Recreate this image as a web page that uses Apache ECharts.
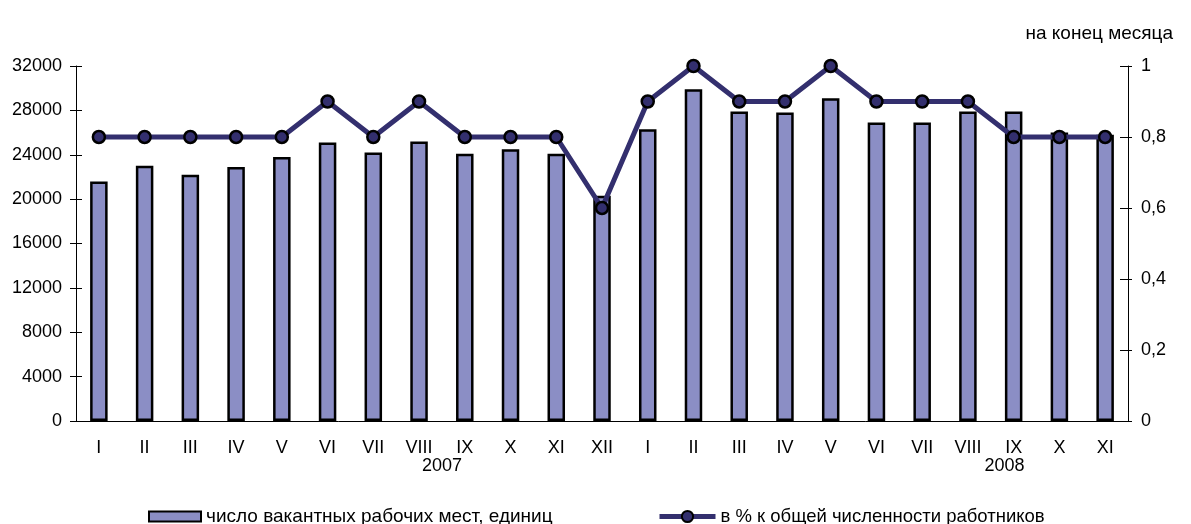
<!DOCTYPE html>
<html>
<head>
<meta charset="utf-8">
<script src="https://cdn.jsdelivr.net/npm/echarts@6/dist/echarts.min.js"></script>
<style>
  html, body { margin: 0; padding: 0; background: #fff; }
  #c1 { width: 1191px; height: 524px; }
</style>
</head>
<body>
<div id="c1"></div>
<script>
var months = ['I','II','III','IV','V','VI','VII','VIII','IX','X','XI','XII',
              'I','II','III','IV','V','VI','VII','VIII','IX','X','XI'];
// число вакантных рабочих мест, единиц
var vacancies = [21600, 23000, 22200, 22900, 23800, 25100, 24200, 25200, 24100, 24500, 24100, 20300,
                 26300, 29900, 27900, 27800, 29100, 26900, 26900, 27900, 27900, 26000, 25800];
// в % к общей численности работников
var share = [0.8, 0.8, 0.8, 0.8, 0.8, 0.9, 0.8, 0.9, 0.8, 0.8, 0.8, 0.6,
             0.9, 1.0, 0.9, 0.9, 1.0, 0.9, 0.9, 0.9, 0.8, 0.8, 0.8];
var leftAxis = {min: 0, max: 32000, interval: 4000};
var rightAxis = {min: 0, max: 1, interval: 0.2};
// year caption: placed between two month categories (weight w on the first)
var years = [{text: '2007', a: 7, b: 8, w: 0.5}, {text: '2008', a: 19, b: 20, w: 0.2}];
var seriesNames = ['число вакантных рабочих мест, единиц', 'в % к общей численности работников'];

var font = 'Liberation Sans, Arial, sans-serif';
var barColor = '#8b8ec5';
var lineColor = '#332f6e';

function yAx(pos, range, opts) {
  var a = {
    type: 'value', position: pos,
    min: range.min, max: range.max, interval: range.interval,
    splitLine: {show: false},
    axisLine: {show: true, lineStyle: {color: '#000', width: 1}},
    axisTick: {show: true, length: 6, lineStyle: {color: '#000'}},
    axisLabel: {show: true, color: '#000', fontSize: 18, fontFamily: font, margin: 14,
      formatter: function (v) { return String(v); }}
  };
  for (var k in opts) a[k] = opts[k];
  return a;
}

var option = {
  animation: false,
  title: {
    text: 'на конец месяца',
    right: 13, top: 19,
    textStyle: {fontSize: 19, fontWeight: 'normal', color: '#000', fontFamily: font}
  },
  legend: [
    {
      left: 148, top: 507, padding: 0,
      itemWidth: 52, itemHeight: 10,
      textStyle: {fontSize: 19, color: '#000', fontFamily: font},
      data: [{name: seriesNames[0], icon: 'rect'}]
    },
    {
      left: 657, top: 507, padding: 0,
      itemWidth: 56, itemHeight: 14,
      textStyle: {fontSize: 18.5, color: '#000', fontFamily: font},
      data: [{name: seriesNames[1], lineStyle: {width: 5, color: lineColor}}]
    }
  ],
  grid: {left: 76, right: 63, top: 66, bottom: 103, containLabel: false},
  xAxis: [
    {
      type: 'category', data: months, position: 'bottom',
      axisLine: {lineStyle: {color: '#000'}},
      axisTick: {length: 4, lineStyle: {color: '#000'}},
      axisLabel: {color: '#000', fontSize: 18, fontFamily: font, margin: 18, interval: 0}
    },
    {
      type: 'category', data: months, position: 'bottom',
      axisLine: {show: false},
      axisTick: {inside: true, length: 8, lineStyle: {color: '#000'}},
      axisLabel: {show: false}
    }
  ],
  yAxis: [
    yAx('left', leftAxis, {}),
    yAx('right', rightAxis, {
      axisTick: {show: true, length: 4, lineStyle: {color: '#000'}},
      axisLabel: {color: '#000', fontSize: 18, fontFamily: font, margin: 13,
        formatter: function (v) { return String(v).replace('.', ','); }}
    }),
    yAx('left', leftAxis, {
      axisLine: {show: false}, axisLabel: {show: false},
      axisTick: {show: true, inside: true, length: 6, lineStyle: {color: '#000'}}
    }),
    yAx('right', rightAxis, {
      axisLine: {show: false}, axisLabel: {show: false},
      axisTick: {show: true, inside: true, length: 8, lineStyle: {color: '#000'}}
    })
  ],
  series: [
    {
      name: seriesNames[0], type: 'bar', yAxisIndex: 0,
      barWidth: 17.5,
      itemStyle: {color: barColor, borderColor: '#000', borderWidth: 2.5},
      data: vacancies
    },
    {
      name: seriesNames[1], type: 'line', yAxisIndex: 1,
      symbol: 'circle', symbolSize: 12,
      lineStyle: {color: lineColor, width: 5},
      itemStyle: {color: lineColor, borderColor: '#000', borderWidth: 2.5},
      data: share
    }
  ]
};

var chart = echarts.init(document.getElementById('c1'));
chart.setOption(option);

// year captions under the month labels
var g = [];
years.forEach(function (y) {
  var xa = chart.convertToPixel({xAxisIndex: 0}, y.a);
  var xb = chart.convertToPixel({xAxisIndex: 0}, y.b);
  g.push({
    type: 'text', x: xa * y.w + xb * (1 - y.w), y: 466,
    style: {text: y.text, fill: '#000', font: '18px ' + font, align: 'center', verticalAlign: 'middle'}
  });
});
chart.setOption({graphic: g});
</script>
</body>
</html>
